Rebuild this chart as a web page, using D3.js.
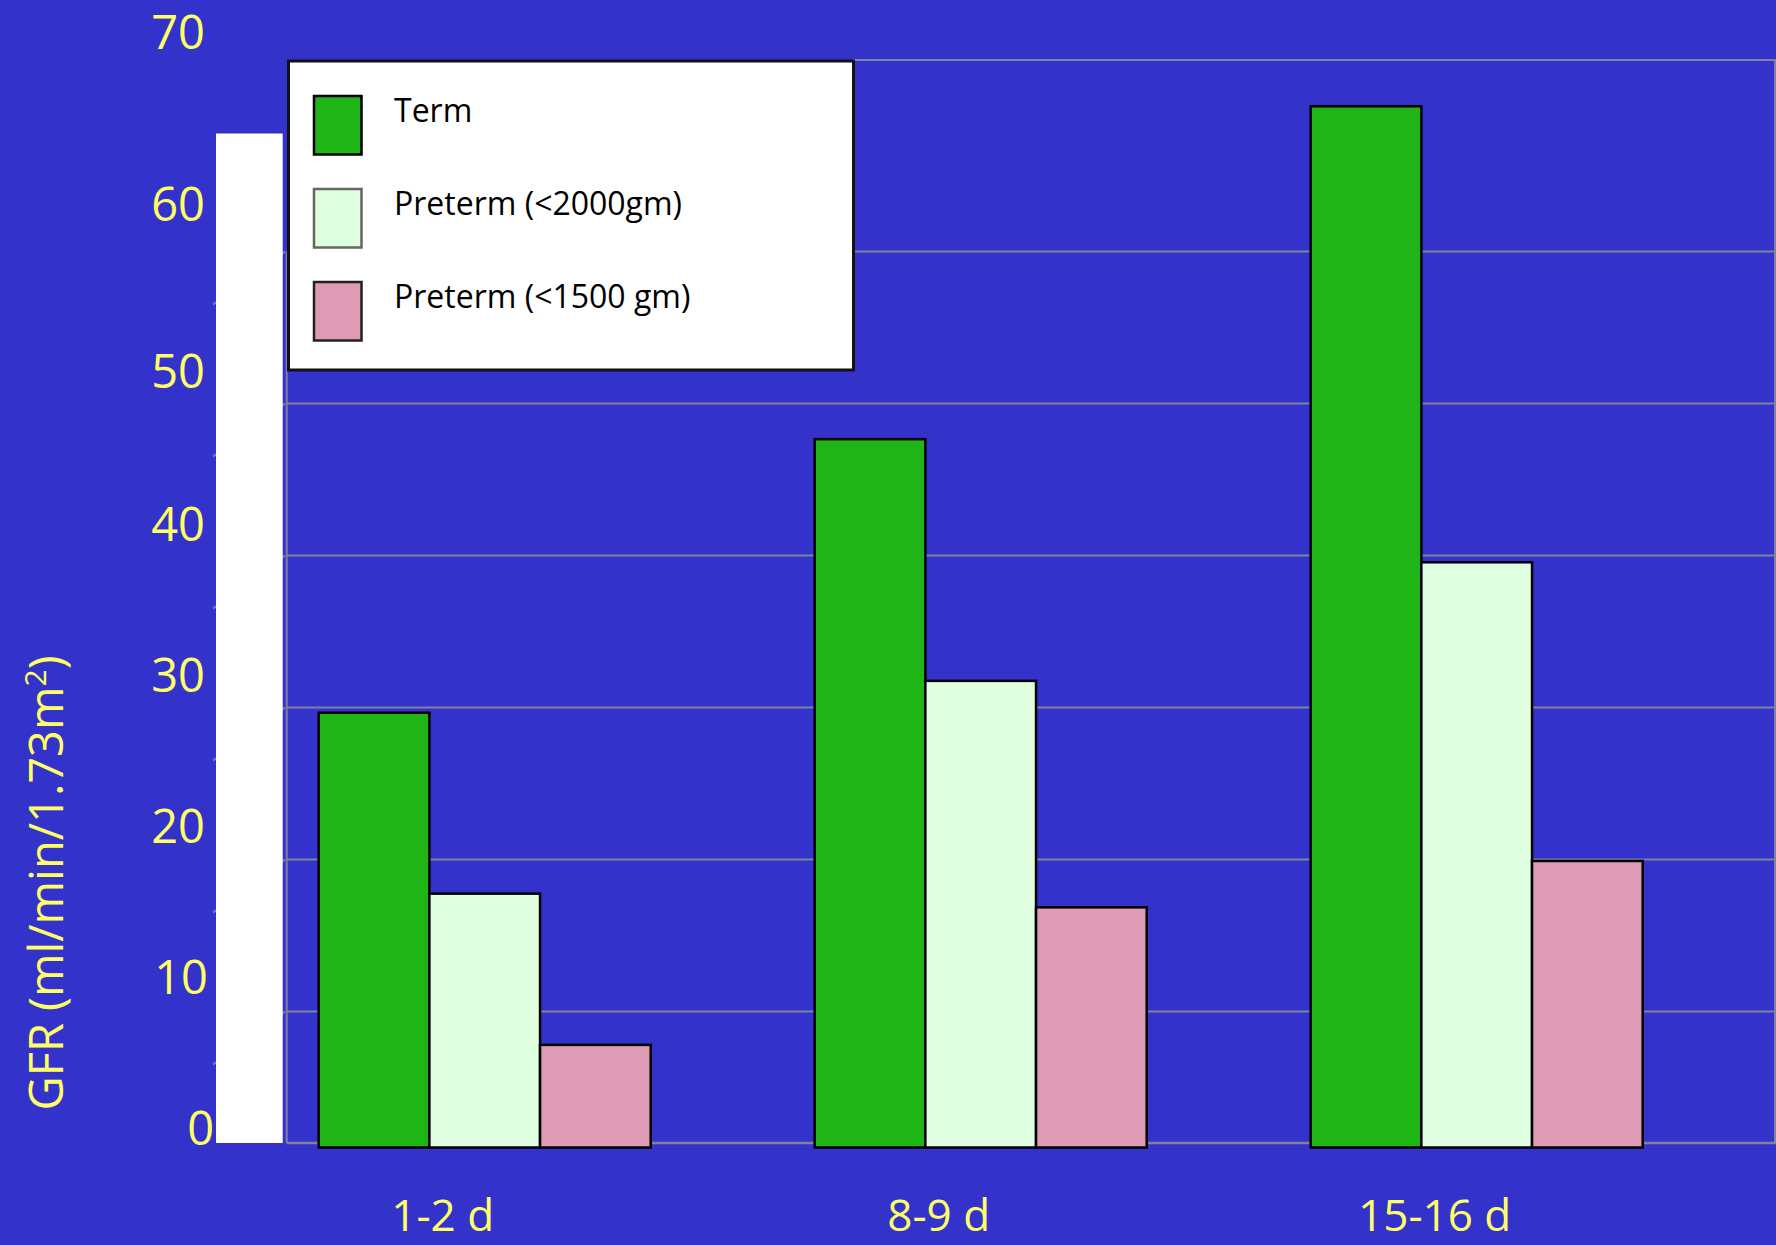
<!DOCTYPE html>
<html>
<head>
<meta charset="utf-8">
<script src="https://cdn.jsdelivr.net/npm/d3@7"></script>
<style>
  html, body { margin: 0; padding: 0; background: #3333CC; }
  svg { display: block; }
  text { font-family: "Comic Sans MS", "Open Sans", "DejaVu Sans", sans-serif; }
</style>
</head>
<body>
<svg id="chart" width="1776" height="1245"></svg>
<script>
// ---- data ----
const categories = ["1-2 d", "8-9 d", "15-16 d"];
const seriesNames = ["Term", "Preterm (<2000gm)", "Preterm (<1500 gm)"];
const termValues = [28.6, 46.6, 68.5];
const preterm2000Values = [16.7, 30.7, 38.5];
const preterm1500Values = [6.75, 15.8, 18.85];
const yTickLabels = [0, 10, 20, 30, 40, 50, 60, 70];
const gridValues = [10, 20, 30, 40, 50, 60];
const yTitle = "GFR (ml/min/1.73m";
const yTitleSup = "2";

// ---- style ----
const seriesColors = ["#1FB516", "#E0FFE0", "#DF9BB3"];
const swatchStrokes = ["#000", "#666", "#222"];
const yellow = "#FFFF66";
const gridColor = "#8080A0";

const svg = d3.select("#chart");
svg.append("rect").attr("width", 1776).attr("height", 1245).attr("fill", "#3333CC");

// scales
const y = d3.scaleLinear().domain([0, 70]).range([1147.5, 1147.5 - 70 * 15.2]);
const x0 = d3.scaleBand().domain(categories).range([318.7, 1642.7]).paddingInner(0.3306).paddingOuter(0);
const x1 = d3.scaleBand().domain(seriesNames).range([0, x0.bandwidth()]).padding(0);
const yLabel = d3.scaleLinear().domain([0, 40, 50, 60, 70]).range([1127.6, 524.4, 371, 203.7, 32]);

const wallShift = 16;      // 3D back-wall offset of grid lines
const plotLeft = 286.7, plotRight = 1775, frameTop = 60, floorY = y(0) - 4.5;
const depthDx = 72, depthDy = 53;

// grid lines (back wall)
const gridG = svg.append("g");
gridG.selectAll("line.grid").data(gridValues).join("line")
  .attr("x1", plotLeft).attr("x2", 1776)
  .attr("y1", d => y(d) + wallShift).attr("y2", d => y(d) + wallShift)
  .attr("stroke", gridColor).attr("stroke-width", 2);
// depth diagonals (front axis ticks)
gridG.selectAll("line.diag").data(gridValues).join("line")
  .attr("x1", plotLeft - 1.5).attr("y1", d => y(d) + wallShift)
  .attr("x2", plotLeft - 1.5 - depthDx).attr("y2", d => y(d) + wallShift + depthDy)
  .attr("stroke", gridColor).attr("stroke-width", 2);
// frame
gridG.append("line").attr("x1", plotLeft).attr("x2", 1776).attr("y1", floorY).attr("y2", floorY)
  .attr("stroke", gridColor).attr("stroke-width", 2.5);
gridG.append("line").attr("x1", plotLeft).attr("x2", plotLeft).attr("y1", y(60) + wallShift).attr("y2", floorY)
  .attr("stroke", gridColor).attr("stroke-width", 2);
gridG.append("line").attr("x1", 853).attr("x2", 1776).attr("y1", frameTop).attr("y2", frameTop)
  .attr("stroke", gridColor).attr("stroke-width", 2);
gridG.append("line").attr("x1", plotRight).attr("x2", plotRight).attr("y1", frameTop).attr("y2", floorY)
  .attr("stroke", gridColor).attr("stroke-width", 2);

// white side wall
svg.append("rect").attr("x", 216).attr("y", 133.5).attr("width", 66.7).attr("height", floorY - 133.5)
  .attr("fill", "#FFFFFF");

// bars
const seriesData = [termValues, preterm2000Values, preterm1500Values];
const barRows = [];
categories.forEach((c, i) => {
  seriesNames.forEach((s, j) => barRows.push({ cat: c, series: s, idx: j, value: seriesData[j][i] }));
});
svg.append("g").selectAll("rect").data(barRows).join("rect")
  .attr("x", d => x0(d.cat) + x1(d.series))
  .attr("width", x1.bandwidth())
  .attr("y", d => y(d.value))
  .attr("height", d => y(0) - y(d.value))
  .attr("fill", d => seriesColors[d.idx])
  .attr("stroke", "#000").attr("stroke-width", 2.5);

// y tick labels
svg.append("g").selectAll("text").data(yTickLabels).join("text")
  .attr("x", d => d === 0 ? 214 : (d === 10 ? 208 : 205))
  .attr("y", d => yLabel(d)).attr("dy", "0.36em")
  .attr("text-anchor", "end").attr("fill", yellow).attr("font-size", 47)
  .text(d => d);

// x labels
svg.append("g").selectAll("text").data(categories).join("text")
  .attr("x", d => x0(d) + x0.bandwidth() / 2 - 42).attr("y", 1231)
  .attr("text-anchor", "middle").attr("fill", yellow).attr("font-size", 44)
  .text(d => d);

// y title
const t = svg.append("text")
  .attr("transform", "translate(63,883) rotate(-90)")
  .attr("text-anchor", "middle").attr("fill", yellow).attr("font-size", 47);
t.append("tspan").text(yTitle);
t.append("tspan").attr("dy", -17).attr("font-size", 30).text(yTitleSup);
t.append("tspan").attr("dy", 17).text(")");

// legend
const lg = svg.append("g");
lg.append("rect").attr("x", 288.5).attr("y", 61).attr("width", 565).attr("height", 309)
  .attr("fill", "#FFFFFF").attr("stroke", "#111").attr("stroke-width", 3);
const legendStep = 93;
const items = lg.selectAll("g.item").data(seriesNames).join("g")
  .attr("transform", (d, i) => `translate(0, ${i * legendStep})`);
items.append("rect").attr("x", 314).attr("y", 96).attr("width", 47.5).attr("height", 58.5)
  .attr("fill", (d, i) => seriesColors[i]).attr("stroke", (d, i) => swatchStrokes[i]).attr("stroke-width", 2.5);
items.append("text").attr("x", 394).attr("y", 122)
  .attr("fill", "#000").attr("font-size", 32).text(d => d);
</script>
</body>
</html>
